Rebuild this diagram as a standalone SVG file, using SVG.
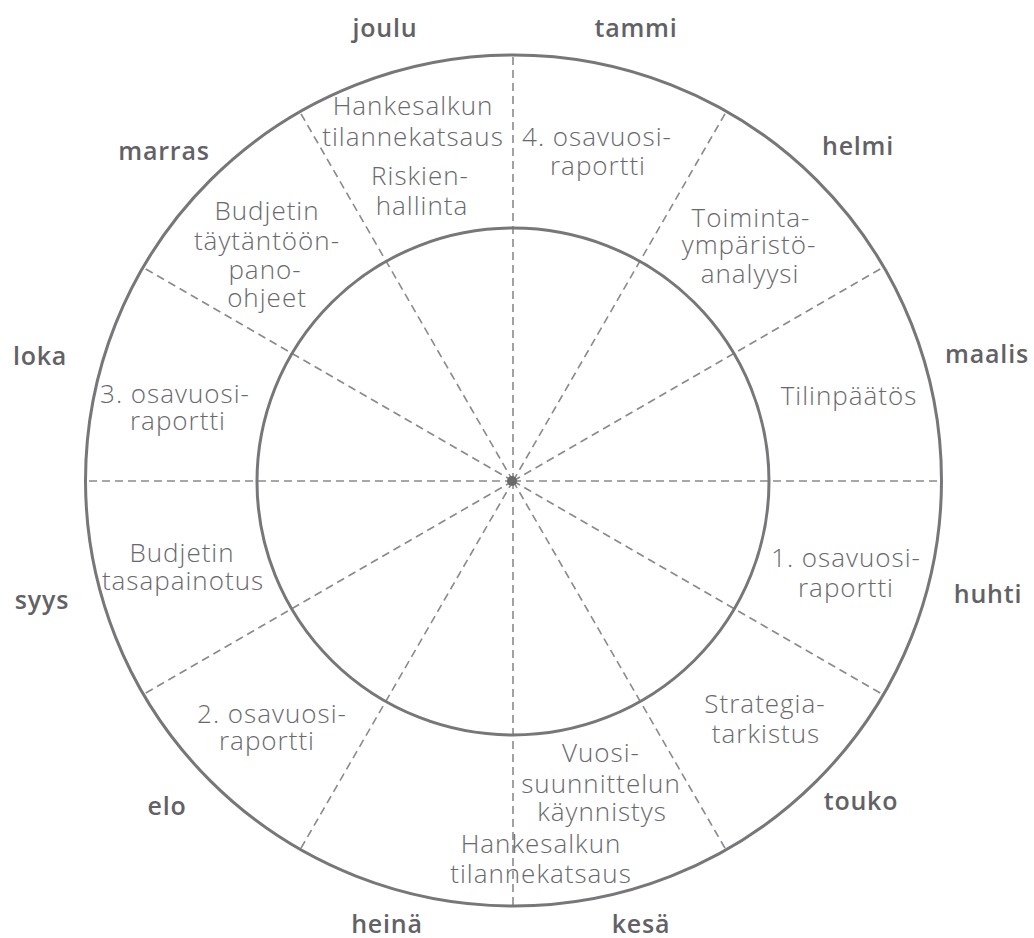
<svg xmlns="http://www.w3.org/2000/svg" width="1034" height="938" viewBox="0 0 1034 938">
<style>
.ring{fill:none;stroke:#77777a;stroke-width:3}
.spoke{stroke:#8a8a8d;stroke-width:1.6;stroke-dasharray:8 5}
.m{font-family:"Open Sans","Noto Sans","Liberation Sans",sans-serif;font-size:25px;font-weight:600;fill:#626266;text-anchor:middle;letter-spacing:0.8px}
.t{font-family:"Open Sans","Noto Sans","Liberation Sans",sans-serif;font-size:26px;font-weight:300;fill:#69696d;text-anchor:middle;letter-spacing:1px}
</style>
<rect width="1034" height="938" fill="#ffffff"/>
<g id="connectors">
<line class="spoke" x1="513" y1="481" x2="513" y2="55"/>
<line class="spoke" x1="513" y1="481" x2="726.5" y2="111.2"/>
<line class="spoke" x1="513" y1="481" x2="882.8" y2="267.5"/>
<line class="spoke" x1="513" y1="481" x2="940" y2="481"/>
<line class="spoke" x1="513" y1="481" x2="882.8" y2="694.5"/>
<line class="spoke" x1="513" y1="481" x2="726.5" y2="850.8"/>
<line class="spoke" x1="513" y1="481" x2="513" y2="906"/>
<line class="spoke" x1="513" y1="481" x2="299.5" y2="850.8"/>
<line class="spoke" x1="513" y1="481" x2="143.2" y2="694.5"/>
<line class="spoke" x1="513" y1="481" x2="86" y2="481"/>
<line class="spoke" x1="513" y1="481" x2="143.2" y2="267.5"/>
<line class="spoke" x1="513" y1="481" x2="299.5" y2="111.2"/>
</g>
<g id="outer-ring"><ellipse class="ring" cx="513.5" cy="480.5" rx="428" ry="425.5"/></g>
<g id="inner-ring"><ellipse class="ring" cx="513" cy="481.5" rx="256" ry="253.5"/></g>
<g id="center"><circle cx="512" cy="481" r="5" fill="#6a6a6d"/></g>
<g id="months">
<text class="m" x="636" y="37">tammi</text>
<text class="m" x="858" y="155">helmi</text>
<text class="m" x="987" y="363">maalis</text>
<text class="m" x="988" y="603">huhti</text>
<text class="m" x="861" y="810">touko</text>
<text class="m" x="641" y="933">kesä</text>
<text class="m" x="387" y="933">heinä</text>
<text class="m" x="167" y="815">elo</text>
<text class="m" x="42" y="609">syys</text>
<text class="m" x="40" y="365">loka</text>
<text class="m" x="164" y="160">marras</text>
<text class="m" x="385" y="37">joulu</text>
</g>
<g id="node-hankesalkun-joulu"><text class="t" x="413" y="115">Hankesalkun</text><text class="t" x="413" y="146">tilannekatsaus</text></g>
<g id="node-riskienhallinta"><text class="t" x="420" y="185">Riskien-</text><text class="t" x="422" y="215">hallinta</text></g>
<g id="node-4-osavuosi"><text class="t" x="597" y="146">4. osavuosi-</text><text class="t" x="598" y="175">raportti</text></g>
<g id="node-toimintaymparisto"><text class="t" x="751" y="227">Toiminta-</text><text class="t" x="749" y="254">ympäristö-</text><text class="t" x="750" y="283">analyysi</text></g>
<g id="node-tilinpaatos"><text class="t" x="849" y="405">Tilinpäätös</text></g>
<g id="node-1-osavuosi"><text class="t" x="846" y="567">1. osavuosi-</text><text class="t" x="846" y="597">raportti</text></g>
<g id="node-strategiatarkistus"><text class="t" x="765" y="713">Strategia-</text><text class="t" x="766" y="743">tarkistus</text></g>
<g id="node-vuosisuunnittelu"><text class="t" x="601" y="762">Vuosi-</text><text class="t" x="601" y="793">suunnittelun</text><text class="t" x="602" y="821">käynnistys</text></g>
<g id="node-hankesalkun-kesa"><text class="t" x="541" y="853">Hankesalkun</text><text class="t" x="541" y="883">tilannekatsaus</text></g>
<g id="node-2-osavuosi"><text class="t" x="272" y="723">2. osavuosi-</text><text class="t" x="267" y="750">raportti</text></g>
<g id="node-budjetin-tasapainotus"><text class="t" x="182" y="562">Budjetin</text><text class="t" x="183" y="590">tasapainotus</text></g>
<g id="node-3-osavuosi"><text class="t" x="175" y="403">3. osavuosi-</text><text class="t" x="178" y="430">raportti</text></g>
<g id="node-budjetin-taytantoonpano"><text class="t" x="267" y="220">Budjetin</text><text class="t" x="267" y="250">täytäntöön-</text><text class="t" x="265" y="279">pano-</text><text class="t" x="267" y="307">ohjeet</text></g>
</svg>
